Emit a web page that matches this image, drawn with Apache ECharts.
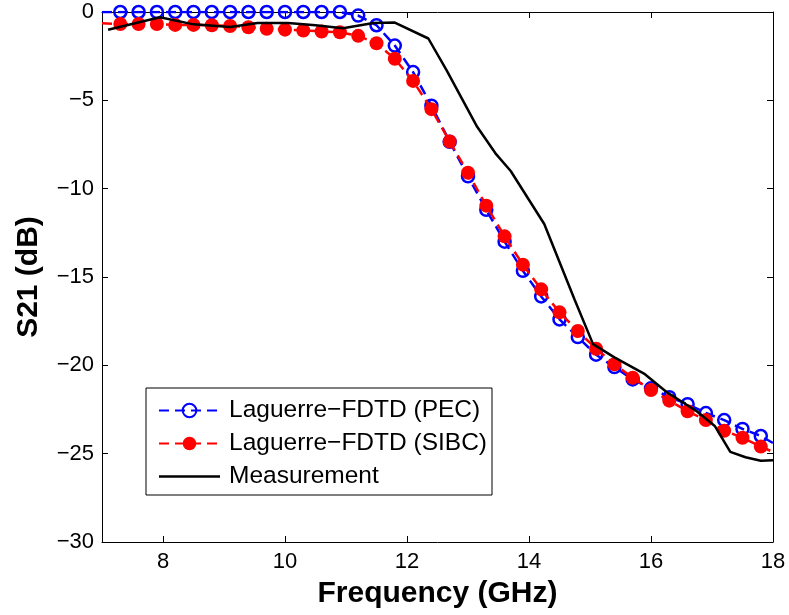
<!DOCTYPE html>
<html>
<head>
<meta charset="utf-8">
<script src="https://cdn.jsdelivr.net/npm/echarts@6/dist/echarts.min.js"></script>
<style>
html,body{margin:0;padding:0;background:#fff;}
#chart{width:789px;height:615px;}
</style>
</head>
<body>
<div id="chart"></div>
<script>
// Simulation frequencies (GHz); first and last entries are line ends without markers
var simFreq = [7.0, 7.3, 7.6, 7.9, 8.2, 8.5, 8.8, 9.1, 9.4, 9.7, 10.0, 10.3, 10.6, 10.9, 11.2, 11.5, 11.8,
  12.1, 12.4, 12.7, 13.0, 13.3, 13.6, 13.9, 14.2, 14.5, 14.8, 15.1, 15.4, 15.7, 16.0, 16.3, 16.6,
  16.9, 17.2, 17.5, 17.8, 18.0];
var pecS21 = [0, 0, 0, 0, 0, 0, 0, 0, 0, 0, 0, 0, 0, 0, -0.2, -0.75, -1.9,
  -3.4, -5.3, -7.35, -9.3, -11.2, -13.0, -14.65, -16.1, -17.4, -18.4, -19.4, -20.1, -20.8, -21.3, -21.8, -22.2,
  -22.7, -23.1, -23.6, -24.0, -24.4];
var sibcS21 = [-0.64, -0.68, -0.68, -0.68, -0.73, -0.73, -0.75, -0.79, -0.86, -0.95, -1.0, -1.05, -1.1, -1.15, -1.35, -1.77, -2.65,
  -3.9, -5.5, -7.33, -9.1, -10.96, -12.7, -14.3, -15.7, -17.0, -18.06, -19.06, -19.94, -20.7, -21.4, -22.0, -22.6,
  -23.1, -23.7, -24.1, -24.6, -24.9];
// Measurement
var measFreq = [7.1, 7.95, 8.5, 9.1, 9.55, 10.05, 10.5, 10.95, 11.45, 11.8, 12.35, 12.65, 13.15, 13.45, 13.7,
  14.25, 14.75, 15.05, 15.4, 15.9, 16.25, 16.75, 17.05, 17.3, 17.55, 17.8, 18.0];
var measS21 = [-1.0, -0.3, -0.7, -0.85, -0.62, -0.62, -0.75, -0.92, -0.62, -0.6, -1.5, -3.3, -6.5, -8.0, -9.0,
  -12.0, -16.3, -18.8, -19.55, -20.5, -21.5, -22.6, -23.45, -24.9, -25.2, -25.4, -25.37];
// Axes
var xTicks = [8, 10, 12, 14, 16, 18];
var yTicks = [0, -5, -10, -15, -20, -25, -30];
var seriesNames = ['Laguerre\u2212FDTD (PEC)', 'Laguerre\u2212FDTD (SIBC)', 'Measurement'];

function simData(ys) {
  return simFreq.map(function (f, i) {
    var item = { value: [f, ys[i]] };
    if (i === 0 || i === simFreq.length - 1) item.symbol = 'none';
    return item;
  });
}
function pairs(xs, ys) { return xs.map(function (x, i) { return [x, ys[i]]; }); }

var FONT = 'Liberation Sans, Arial, Helvetica, sans-serif';
var tickStyle = { show: true, inside: true, length: 6, lineStyle: { color: '#000', width: 1 } };
var lineAx = { show: true, onZero: false, lineStyle: { color: '#000', width: 1 } };

var chart = echarts.init(document.getElementById('chart'), null, { renderer: 'canvas' });
chart.setOption({
  animation: false,
  backgroundColor: '#fff',
  grid: { left: 102, right: 16, top: 12, bottom: 73, containLabel: false },
  xAxis: [{
    type: 'value', min: 7, max: 18, position: 'bottom',
    axisLine: lineAx,
    axisTick: Object.assign({ customValues: xTicks }, tickStyle),
    axisLabel: { customValues: xTicks, color: '#000', fontSize: 22, fontFamily: FONT, margin: 9 },
    splitLine: { show: false },
    name: 'Frequency (GHz)', nameLocation: 'middle', nameGap: 37,
    nameTextStyle: { color: '#000', fontSize: 30, fontWeight: 'bold', fontFamily: FONT }
  }, {
    type: 'value', min: 7, max: 18, position: 'top',
    axisLine: lineAx,
    axisTick: Object.assign({ customValues: xTicks }, tickStyle),
    axisLabel: { show: false }, splitLine: { show: false }
  }],
  yAxis: [{
    type: 'value', min: -30, max: 0, interval: 5, position: 'left',
    axisLine: lineAx,
    axisTick: Object.assign({ customValues: yTicks }, tickStyle),
    axisLabel: {
      customValues: yTicks,
      color: '#000', fontSize: 22, fontFamily: FONT, margin: 8,
      formatter: function (v) { return String(v).replace('-', '\u2212'); }
    },
    splitLine: { show: false },
    name: 'S21 (dB)', nameLocation: 'middle', nameGap: 58, nameRotate: 90,
    nameTextStyle: { color: '#000', fontSize: 30, fontWeight: 'bold', fontFamily: FONT }
  }, {
    type: 'value', min: -30, max: 0, interval: 5, position: 'right',
    axisLine: lineAx, axisTick: Object.assign({ customValues: yTicks }, tickStyle),
    axisLabel: { show: false }, splitLine: { show: false }
  }],
  legend: {
    orient: 'vertical', left: 146, top: 388,
    padding: [10, 5, 6, 12],
    itemWidth: 61, itemHeight: 17, itemGap: 8,
    backgroundColor: '#fff', borderColor: '#000', borderWidth: 1,
    textStyle: { color: '#000', fontSize: 24.5, fontFamily: FONT, padding: [0, 0, 0, 4] },
    data: [seriesNames[0], seriesNames[1], {
      name: seriesNames[2],
      icon: 'path://M0,0L61,0L61,2.5L0,2.5Z',
      itemStyle: { color: '#000' }
    }]
  },
  series: [{
    name: seriesNames[0], type: 'line', xAxisIndex: 0, yAxisIndex: 0,
    data: simData(pecS21),
    symbol: 'circle', symbolSize: 12, showAllSymbol: true,
    lineStyle: { color: '#0000ff', width: 2.5, type: [10, 6] },
    itemStyle: { color: 'rgba(0,0,0,0)', borderColor: '#0000ff', borderWidth: 2.5 },
    z: 2
  }, {
    name: seriesNames[1], type: 'line', xAxisIndex: 0, yAxisIndex: 0,
    data: simData(sibcS21),
    symbol: 'circle', symbolSize: 14, showAllSymbol: true,
    lineStyle: { color: '#ff0000', width: 2.5, type: [10, 6] },
    itemStyle: { color: '#ff0000', borderWidth: 0 },
    z: 3
  }, {
    name: seriesNames[2], type: 'line', xAxisIndex: 0, yAxisIndex: 0,
    data: pairs(measFreq, measS21),
    symbol: 'none', showSymbol: false,
    lineStyle: { color: '#000', width: 2.5 },
    itemStyle: { color: '#000' },
    z: 4
  }]
});
</script>
</body>
</html>
